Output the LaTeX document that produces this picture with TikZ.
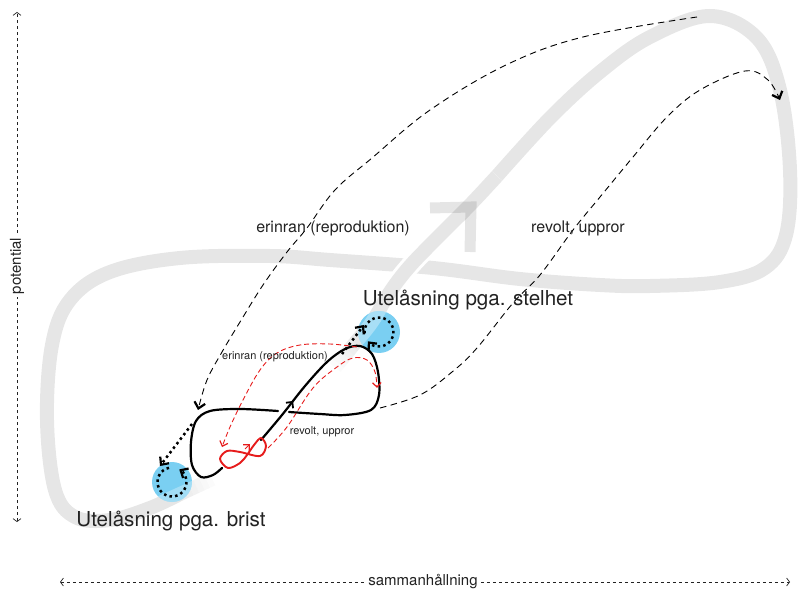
\documentclass[tikz,border=0pt]{standalone}
\usepackage{fontspec}
\setmainfont{TeX Gyre Heros}
\usetikzlibrary{arrows.meta,decorations.markings}
\definecolor{band}{RGB}{230,230,230}
\definecolor{bluec}{RGB}{122,207,242}
\definecolor{txt}{RGB}{34,34,34}
\definecolor{redc}{RGB}{230,28,28}
\begin{document}
\begin{tikzpicture}[x=1pt,y=-1pt,
  bandl/.style={draw=band,line width=14pt,line cap=butt,line join=round},
  dashblack/.style={draw=black,line width=0.9pt,dash pattern=on 6.5pt off 4.5pt},
  dashred/.style={draw=redc,line width=0.9pt,dash pattern=on 5pt off 3pt},
  dotl/.style={draw=black,line width=2.5pt,dash pattern=on 2.5pt off 3.2pt},
  loopl/.style={draw=black,line width=2.2pt,line cap=round},
  axisl/.style={draw=txt,line width=0.7pt,dash pattern=on 3pt off 3pt},
  bigtip/.tip={Straight Barb[length=6pt,width=11pt,line width=2.2pt]},
  redtip/.tip={Straight Barb[length=4.5pt,width=8.5pt,line width=1.2pt]},
  axtip/.tip={Straight Barb[length=3pt,width=8pt,line width=0.7pt]},
  lbl/.style={text=txt,inner sep=1pt},
  bigfont/.style={font=\fontsize{20.6}{22}\selectfont},
  midfont/.style={font=\fontsize{16}{18}\selectfont},
  smallfont/.style={font=\fontsize{11}{12}\selectfont},
  axfont/.style={font=\fontsize{15}{16}\selectfont},
  spot/.style={circle,fill=bluec,inner sep=0pt}
]
\useasboundingbox (0,0) rectangle (798,593);

% ---- big grey infinity band ----
\draw[bandl] plot[smooth,tension=0.6] coordinates {(497,176) (550,118) (600,72) (650,37) (710,16) (757,38) (780,90) (790,170) (786,235) (765,268) (720,282) (650,286) (600,285) (520,279) (433,268) (330,260) (270,256) (180,258) (110,272) (70,300) (52,345) (47,420) (55,490) (75,517) (110,520) (150,508) (180,494)};
\foreach \i in {0,...,5}{
  \draw[draw=band,line width=14pt,opacity={0.8-0.13*\i}] ({180+5.4*\i},{494-2.5*\i}) -- ({180+5.4*(\i+1)},{494-2.5*(\i+1)});
}
\draw[draw=white,line width=20pt,line cap=butt] plot[smooth,tension=0.6] coordinates {(497,176) (470,205) (440,235) (410,266) (390,292) (372,322) (355,343)};
\draw[bandl] plot[smooth,tension=0.6] coordinates {(497,176) (470,205) (440,235) (410,266) (390,292) (372,322) (355,343)};
\foreach \i in {0,...,5}{
  \draw[draw=band,line width=14pt,opacity={0.8-0.13*\i}] ({355-3.3*\i},{343+4.1*\i}) -- ({355-3.3*(\i+1)},{343+4.1*(\i+1)});
}
% grey arrow head on band
\draw[black,opacity=0.1,line width=11pt,line join=miter,line cap=butt] (430,208) -- (471,207) -- (470,252);

% ---- axes ----
\coordinate (vtop) at (17,12);
\coordinate (vbot) at (17,522);
\coordinate (hl) at (60,582);
\coordinate (hr) at (790,582);
\draw[axisl,axtip-axtip] (vbot) -- (vtop);
\draw[axisl,axtip-axtip] (hl) -- (hr);
\node[lbl,axfont,fill=white,rotate=90,inner sep=3pt] (potl) at (17,266) {potential};
\node[lbl,axfont,fill=white,inner sep=3pt] (saml) at (423,582) {sammanhållning};

% ---- circles ----
\node[spot,minimum size=42pt] (stelhet) at (379,332) {};
\node[spot,minimum size=40pt] (brist) at (172,482) {};
\begin{scope}
  \clip (379,332) circle[radius=21pt];
  \draw[draw=white,line width=14pt,opacity=0.35] plot[smooth,tension=0.6] coordinates {(497,176) (470,205) (440,235) (410,266) (390,292) (372,322) (355,343)};
  \foreach \i in {0,...,3}{
    \draw[draw=white,line width=14pt,opacity={0.3-0.07*\i}] ({355-3.3*\i},{343+4.1*\i}) -- ({355-3.3*(\i+1)},{343+4.1*(\i+1)});
  }
\end{scope}
\begin{scope}
  \clip (172,482) circle[radius=20pt];
  \draw[draw=white,line width=14pt,opacity=0.3] (140,512) -- (180,494) -- (215,478);
\end{scope}
% dotted inner circles
\draw[dotl,-bigtip] (brist.center) ++(-102:14.5) arc[start angle=-102,end angle=-420,radius=14.5];
\draw[dotl,-bigtip] (stelhet.center) ++(-185:14.5) arc[start angle=-185,end angle=140,radius=14.5];

% ---- big dashed connectors ----
\coordinate (aS) at (697,17);
\coordinate (aE) at (198,410);
\draw[dashblack,-bigtip] (aS) plot[smooth,tension=0.6] coordinates {(697,17) (583,37) (506,65) (430,110) (372,158) (335,190) (307,228) (287,252) (263,285) (240,322) (222,352) (207,380) (198,410)};
\coordinate (bS) at (380,408);
\draw[dashblack,-bigtip] (bS) plot[smooth,tension=0.6] coordinates {(380,408) (420,395) (452,372) (477,348) (513,303) (540,275) (573,230) (600,197) (633,157) (667,117) (700,90) (745,71) (768,80) (780,100)};

% ---- black figure eight ----
\draw[loopl,postaction={decorate},decoration={markings,mark=at position 0.17 with {\arrow{Straight Barb[length=4.5pt,width=9pt,line width=1.8pt]}}}] plot[smooth,tension=0.55] coordinates {(261,440) (282,415) (305,386) (327,362) (345,349) (360,346) (372,354) (378,372) (379,395) (371,410) (345,415) (320,414) (289,412)};
\draw[loopl] plot[smooth,tension=0.55] coordinates {(278,411) (240,409) (210,411) (196,421) (191,442) (192,465) (201,477) (213,475) (222,468)};

% red small figure eight
\draw[redc,line width=1.9pt] plot[smooth cycle,tension=0.55] coordinates {(247,455) (254,445) (261,438) (266,446) (260,456) (240,452) (227,451) (220,459) (228,468) (240,463)};
\draw[redc,line width=1pt,-redtip] (245,449) -- (250,444);

% red dashed arcs
\draw[dashred,-redtip] plot[smooth,tension=0.6] coordinates {(357,347) (330,344) (300,345) (277,353) (260,370) (243,400) (230,427) (222,447)};
\draw[dashred,-redtip] plot[smooth,tension=0.6] coordinates {(268,448) (287,427) (313,388) (337,367) (353,358) (367,360) (375,372) (377,388)};

% dotted links to the circles
\coordinate (dl1) at (192,424);
\coordinate (dl2) at (342,354);
\draw[dotl,-bigtip] (dl1) -- (160,466);
\draw[dotl,-bigtip] (dl2) -- (364,325);

% ---- labels ----
\node[lbl,midfont] (lA) at (333,228) {erinran (reproduktion)};
\node[lbl,midfont] (lB) at (578,228) {revolt, uppror};
\node[lbl,smallfont] (sA) at (275,357) {erinran (reproduktion)};
\node[lbl,smallfont] (sB) at (322,432) {revolt, uppror};
\node[lbl,bigfont] (tS) at (468,300) {Utelåsning pga. stelhet};
\node[lbl,bigfont] (tB) at (171,521) {Utelåsning pga. brist};
\end{tikzpicture}
\end{document}
